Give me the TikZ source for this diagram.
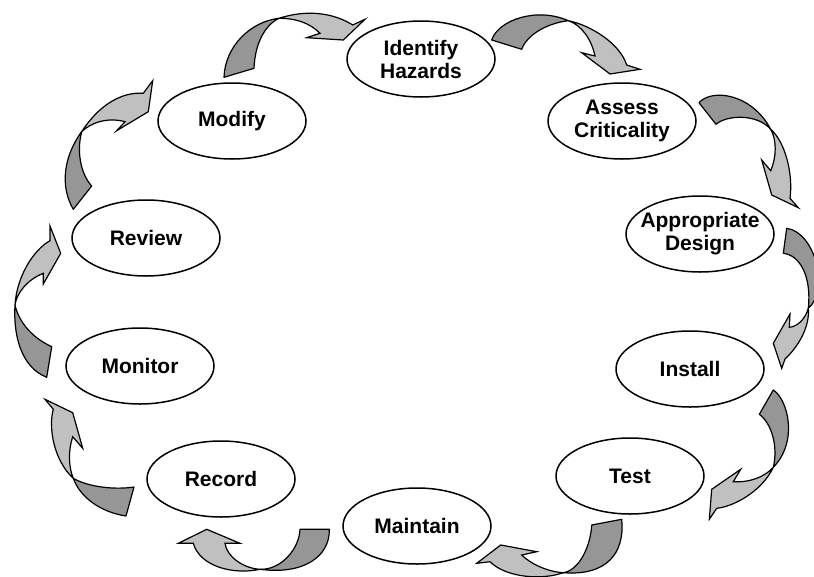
\documentclass[tikz,border=0pt]{standalone}
\usepackage{fontspec}
\setmainfont{Liberation Sans}
\usetikzlibrary{shapes.geometric}
\definecolor{bandback}{RGB}{150,150,150}
\definecolor{bandfront}{RGB}{192,192,192}
\tikzset{
  stage/.style={ellipse, draw=black, line width=1.5pt, fill=white,
    minimum width=148pt, minimum height=76pt, inner sep=0pt},
  stagetext/.style={font=\bfseries\fontsize{21}{23}\selectfont, align=center, inner sep=0pt},
  backband/.style={fill=bandback, draw=black, line width=1.2pt, line join=round},
  frontband/.style={fill=bandfront, draw=black, line width=1.2pt, line join=miter},
}
\begin{document}
\begin{tikzpicture}[x=1pt,y=-1pt]
\useasboundingbox (0,0) rectangle (814,576);

% stages of the cycle
\node[stage] (idh) at (421,59)  {};
\node[stage] (asc) at (622,121) {};
\node[stage] (apd) at (700,234) {};
\node[stage] (ins) at (690,369) {};
\node[stage] (tst) at (630,476) {};
\node[stage] (mnt) at (417,526) {};
\node[stage] (rec) at (221,479) {};
\node[stage] (mon) at (140,366) {};
\node[stage] (rev) at (146,238) {};
\node[stage] (mod) at (232,121) {};

\node[stagetext] at (idh) {Identify\\Hazards};
\node[stagetext] at (asc) {Assess\\Criticality};
\node[stagetext] at (apd) {Appropriate\\Design};
\node[stagetext] at (ins) {Install};
\node[stagetext] at (tst) {Test};
\node[stagetext] at (mnt) {Maintain};
\node[stagetext] at (rec) {Record};
\node[stagetext] at (mon) {Monitor};
\node[stagetext] at (rev) {Review};
\node[stagetext] at (mod) {Modify};

% twisted ribbon arrows: dark back half, light front half with head
% Modify -> Identify Hazards
\draw[backband] (224,77.3) .. controls (225,46.7) and (250,21.7) .. (279,18.3)
  .. controls (265,25) and (255,43.3) .. (254,68.3) -- cycle;
\draw[frontband] (279,18.3) .. controls (306.7,9.3) and (333.3,12.7) .. (352.7,25)
  -- (365,19.3) -- (343.3,40) -- (306.7,37.7) -- (320,33.3)
  .. controls (310,23.3) and (296.7,18.3) .. (279,18.3) -- cycle;

% Identify Hazards -> Assess Criticality
\draw[backband] (491.7,40) .. controls (498.3,20) and (536.7,6.7) .. (568.3,20.7)
  .. controls (546.7,23.3) and (526.7,35) .. (521.7,49.3) -- cycle;
\draw[frontband] (568.3,20.7) .. controls (590,25) and (620,43.3) .. (626.7,65)
  -- (640,69.3) -- (610,74) -- (581.7,52.7) -- (595,56)
  .. controls (591.7,40) and (581.7,25) .. (568.3,20.7) -- cycle;

% Assess Criticality -> Appropriate Design
\draw[backband] (699,102.7) .. controls (711.7,88.3) and (751.7,93.3) .. (770.7,129.3)
  .. controls (756.7,113.3) and (726.7,115) .. (716,124.3) -- cycle;
\draw[frontband] (770.7,129.3) .. controls (785,141.7) and (793.3,173.3) .. (790,198.3)
  -- (798.3,207.7) -- (771.7,195) -- (761.7,160) -- (770.7,170.7)
  .. controls (776.7,156.7) and (776.7,140) .. (770.7,129.3) -- cycle;

% Appropriate Design -> Install
\draw[backband] (786.7,228.3) .. controls (815,232) and (830,290) .. (808.3,308.3)
  .. controls (811.7,276.7) and (800,255) .. (783.3,253.3) -- cycle;
\draw[frontband] (808.3,308.3) .. controls (805,320) and (796.7,326.7) .. (789.3,327.3)
  -- (790,314) -- (773.3,343.3) -- (781.7,368.3) -- (785,359)
  .. controls (798.3,346.7) and (810,326.7) .. (808.3,308.3) -- cycle;

% Install -> Test
\draw[backband] (773.3,390) .. controls (788.3,400) and (798.3,441.7) .. (773.3,467.3)
  .. controls (778.3,446.7) and (771.7,423.3) .. (759.3,414.3) -- cycle;
\draw[frontband] (773.3,467.3) .. controls (765,476.7) and (750,482.7) .. (733.3,481.7)
  -- (740.7,469.3) -- (711.7,489.3) -- (709.3,519.3) -- (716.7,508.3)
  .. controls (733.3,506.7) and (761.7,491.7) .. (773.3,467.3) -- cycle;

% Test -> Maintain
\draw[backband] (621.7,519.3) .. controls (625,553.3) and (606.7,576) .. (563.3,572.7)
  .. controls (580,570) and (590.7,545) .. (591.7,525) -- cycle;
\draw[frontband] (563.3,572.7) .. controls (546.7,571.7) and (530,563.3) .. (521.7,555)
  -- (536.7,551.7) -- (500.7,545) -- (476.7,563.3) -- (490,561.7)
  .. controls (506.7,578.3) and (543.3,580) .. (563.3,572.7) -- cycle;

% Maintain -> Record
\draw[backband] (329.3,529.3) .. controls (330,556.7) and (303.3,575) .. (260,569.3)
  .. controls (281.7,570) and (299.3,548.3) .. (300,529.3) -- cycle;
\draw[frontband] (260,569.3) .. controls (243.3,568.3) and (226.7,556.7) .. (225,543.3)
  -- (240,543.3) -- (206.7,529.3) -- (178.3,543.3) -- (193.3,543.3)
  .. controls (200,566.7) and (233.3,575) .. (260,569.3) -- cycle;

% Record -> Monitor
\draw[backband] (126,516) .. controls (100,512) and (80,497) .. (73.3,478.3)
  .. controls (88,487) and (115,490) .. (134,487) -- cycle;
\draw[frontband] (73.3,478.3) .. controls (68.3,466.7) and (68.3,450) .. (72.7,436.7)
  -- (82.7,448.3) -- (72.7,412.7) -- (45,399.3) -- (53.3,409.3)
  .. controls (48.3,426.7) and (53.3,460) .. (73.3,478.3) -- cycle;

% Monitor -> Review
\draw[backband] (46.7,377.3) .. controls (20,366.7) and (13.3,333.3) .. (15,305)
  .. controls (18.3,320) and (30,336.7) .. (51.7,346.7) -- cycle;
\draw[frontband] (15,305) .. controls (16.7,276.7) and (33.3,250) .. (50,240.7)
  -- (50,226) -- (60.7,253.3) -- (43.3,284) -- (43.3,273.3)
  .. controls (26.7,280) and (16.7,293.3) .. (15,305) -- cycle;

% Review -> Modify
\draw[backband] (73.3,209.3) .. controls (60,186.7) and (63.3,156.7) .. (81.7,131.7)
  .. controls (76.7,150) and (80,173.3) .. (91.7,186) -- cycle;
\draw[frontband] (81.7,131.7) .. controls (100,103.3) and (123.3,91.7) .. (143.3,93.3)
  -- (152.7,80.7) -- (148.3,111.7) -- (116.7,130.7) -- (125,121.7)
  .. controls (106.7,116.7) and (90,123.3) .. (81.7,131.7) -- cycle;
\end{tikzpicture}
\end{document}
